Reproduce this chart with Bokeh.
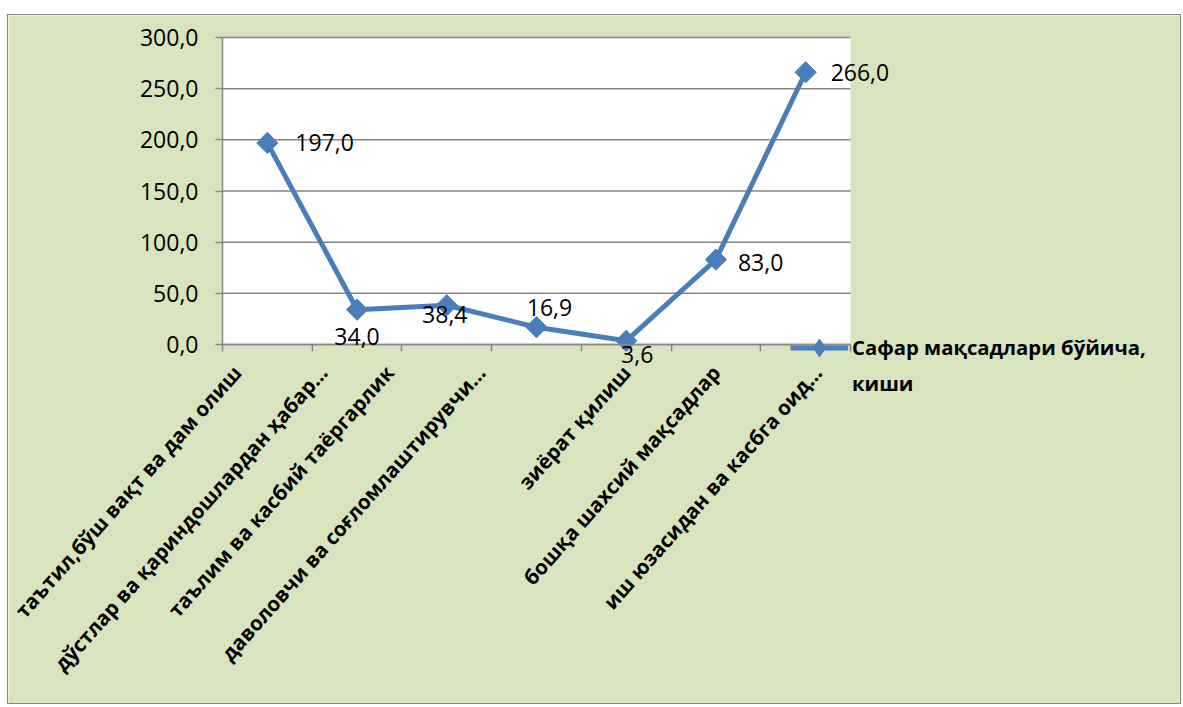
from bokeh.plotting import figure
from bokeh.models import (Range1d, FixedTicker, CustomJSTickFormatter, Label,
                          Legend, LegendItem, ColumnDataSource, BoxAnnotation)
from bokeh.embed import file_html
from bokeh.resources import INLINE

# ---------------- data ----------------
categories = [
    "таътил,бўш вақт ва дам олиш",
    "дўстлар ва қариндошлардан ҳабар…",
    "таълим ва касбий таёргарлик",
    "даволовчи ва соғломлаштирувчи…",
    "зиёрат қилиш",
    "бошқа шахсий мақсадлар",
    "иш юзасидан ва касбга оид…",
]
values = [197.0, 34.0, 38.4, 16.9, 3.6, 83.0, 266.0]
value_labels = ["197,0", "34,0", "38,4", "16,9", "3,6", "83,0", "266,0"]
y_ticks = [0, 50, 100, 150, 200, 250, 300]
series_name_line1 = "Сафар мақсадлари бўйича,"
series_name_line2 = "киши"

# ---------------- styles / layout ----------------
BG = "#D7E4BD"
BLUE = "#4A7EBB"
GRID = "#868686"
FONT = "Open Sans"

W, H = 1174, 690            # figure content size (px)
OX, OY = 8, 15              # content origin on the page (px)
PL, PR, PT, PB = 222, 850, 37, 344   # plot-area edges on the page (px)

# label offsets (screen px) and alignment per point
lab_dx = [28, 0, -2, 13, 11, 22, 25]
lab_dy = [0, -27, -9, 20, -14, -3, 0]
lab_align = ["left", "center", "center", "center", "center", "left", "left"]
# horizontal shift of the rotated category labels (in category widths)
cat_shift = [-0.55, -0.38, -0.64, -0.62, 0.0, 0.0, 0.13]

n = len(categories)
xs = list(range(1, n + 1))
x_lo, x_hi = 0.5, n + 0.5
y_lo, y_hi = y_ticks[0], y_ticks[-1]

sx = (PR - PL) / (x_hi - x_lo)
sy = (PB - PT) / (y_hi - y_lo)
x_start = x_lo - (PL - OX) / sx
x_end = x_start + W / sx
y_end = y_hi + (PT - OY) / sy
y_start = y_lo - (OY + H - PB) / sy

p = figure(width=W, height=H, output_backend="svg", toolbar_location=None,
           x_range=Range1d(x_start, x_end), y_range=Range1d(y_start, y_end),
           min_border=0)
p.styles = {"border": "1px solid #868686", "margin-left": "7px", "margin-top": "14px"}
p.background_fill_color = BG
p.border_fill_color = BG
p.outline_line_color = None

# white plot area
p.add_layout(BoxAnnotation(left=x_lo, right=x_hi, bottom=y_lo, top=y_hi,
                           fill_color="white", fill_alpha=1, line_color=None,
                           level="underlay"))

# axes (fixed inside the frame)
p.yaxis.fixed_location = x_lo
p.yaxis.bounds = (y_lo, y_hi)
p.yaxis.ticker = FixedTicker(ticks=y_ticks)
p.yaxis.formatter = CustomJSTickFormatter(code="return tick.toFixed(1).replace('.', ',');")
p.yaxis.axis_line_color = GRID
p.yaxis.axis_line_width = 1.5
p.yaxis.major_tick_line_color = GRID
p.yaxis.major_tick_line_width = 1.5
p.yaxis.major_tick_out = 7
p.yaxis.major_tick_in = 0
p.yaxis.minor_tick_line_color = None
p.yaxis.major_label_text_font = FONT
p.yaxis.major_label_text_font_size = "23px"
p.yaxis.major_label_text_color = "black"
p.yaxis.major_label_standoff = 17

p.xaxis.fixed_location = y_lo
p.xaxis.bounds = (x_lo, x_hi)
p.xaxis.ticker = FixedTicker(ticks=[x + s for x, s in zip(xs, cat_shift)],
                             minor_ticks=[x - 0.5 for x in xs] + [x_hi])
p.xaxis.formatter = CustomJSTickFormatter(args=dict(labels=categories),
                                          code="return labels[index];")
p.xaxis.major_label_orientation = 0.845
p.xaxis.axis_line_color = GRID
p.xaxis.axis_line_width = 1.5
p.xaxis.major_tick_line_color = None
p.xaxis.major_tick_out = 0
p.xaxis.major_tick_in = 0
p.xaxis.minor_tick_line_color = GRID
p.xaxis.minor_tick_line_width = 1.5
p.xaxis.minor_tick_out = 7
p.xaxis.minor_tick_in = 0
p.xaxis.major_label_text_font = FONT
p.xaxis.major_label_text_font_style = "bold"
p.xaxis.major_label_text_font_size = "20.5px"
p.xaxis.major_label_text_color = "black"
p.xaxis.major_label_standoff = 17

p.grid.visible = False
# horizontal grid lines limited to the plot area
p.segment(x0=[x_lo] * len(y_ticks), x1=[x_hi] * len(y_ticks), y0=y_ticks, y1=y_ticks,
          line_color=GRID, line_width=1.5)

src = ColumnDataSource(dict(x=xs, y=values))
ln = p.line("x", "y", source=src, line_color=BLUE, line_width=5)
sc = p.scatter("x", "y", source=src, marker="square", angle=0.785398, size=15,
               fill_color=BLUE, line_color=BLUE)

for x, v, t, dx, dy, al in zip(xs, values, value_labels, lab_dx, lab_dy, lab_align):
    p.add_layout(Label(x=x, y=v, text=t, x_offset=dx, y_offset=dy,
                       text_align=al, text_baseline="middle",
                       text_font=FONT, text_font_size="23px", text_color="black"))

# legend key marker (diamond, hidden in the plot) and a blank key for line 2
key = p.scatter("x", "y", source=src, marker="diamond", size=18,
                fill_color=BLUE, line_color=BLUE, visible=False)
blank = p.scatter("x", "y", source=src, marker="square", size=1,
                  fill_alpha=0, line_alpha=0, visible=False)

common = dict(orientation="vertical", glyph_width=58, label_standoff=4,
              padding=0, margin=0, spacing=0,
              label_text_font=FONT, label_text_font_style="bold",
              label_text_font_size="20.3px", label_text_color="black",
              background_fill_alpha=0, border_line_color=None,
              inactive_fill_alpha=0)
GH1, GH2 = 45, 28
L1_CY, L2_CY = 347, 383     # vertical centres of the two legend lines (page px)
leg1 = Legend(items=[LegendItem(label=series_name_line1, renderers=[ln, key])],
              location=(790 - OX, OY + H - (L1_CY + GH1 / 2)),
              glyph_height=GH1, label_height=GH1, **common)
leg2 = Legend(items=[LegendItem(label=series_name_line2, renderers=[blank])],
              location=(790 - OX, OY + H - (L2_CY + GH2 / 2)),
              glyph_height=GH2, label_height=GH2, **common)
p.add_layout(leg1, "center")
p.add_layout(leg2, "center")

open("out.html", "w").write(file_html(p, INLINE))
